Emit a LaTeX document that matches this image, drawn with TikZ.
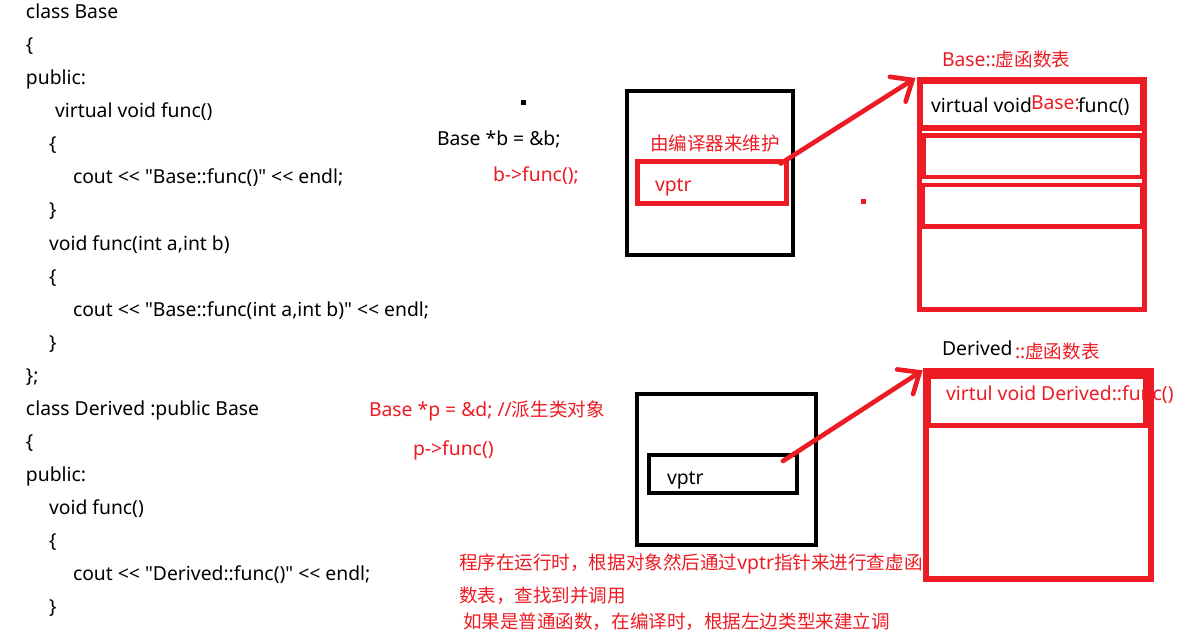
\documentclass[tikz,border=0pt]{standalone}
\usepackage{fontspec}
\setmainfont{Noto Sans}[Ligatures=TeXOff]
\newfontfamily\cjk{Noto Sans CJK SC}[Scale=0.96]
\usetikzlibrary{fit,arrows.meta}
\definecolor{pred}{RGB}{237,28,36}
\begin{document}
\begin{tikzpicture}[x=0.75pt,y=-0.75pt,
  code/.style={anchor=base west, inner sep=0, outer sep=0, text=black, font=\fontsize{14.5}{16}\selectfont},
  rcode/.style={code, text=pred},
  objbox/.style={draw=black, line width=3pt, inner sep=0, outer sep=0},
  redbox/.style={draw=pred, line width=3.5pt, inner sep=0, outer sep=0},
  dotmark/.style={inner sep=0, outer sep=0, minimum size=4pt},
  parrow/.style={draw=pred, line width=3.5pt, line cap=round,
    -{Straight Barb[length=13pt,width=22pt,line cap=round]}}]
\fill[white] (0,0) rectangle (1178,638);
\useasboundingbox (0,0) rectangle (1178,638);

% code listing
\node[code] (l1) at (26,19) {class Base};
\node[code] (l2) at (26,52) {\{};
\node[code] (l3) at (26,85) {public:};
\node[code] (l4) at (55,118) {virtual void func()};
\node[code] (l5) at (49,151) {\{};
\node[code] (l6) at (73,184) {cout << "Base::func()" << endl;};
\node[code] (l7) at (49,217) {\}};
\node[code] (l8) at (49,250) {void func(int a,int b)};
\node[code] (l9) at (49,283) {\{};
\node[code] (l10) at (73,316) {cout << "Base::func(int a,int b)" << endl;};
\node[code] (l11) at (49,349) {\}};
\node[code] (l12) at (26,382) {\};};
\node[code] (l13) at (26,415) {class Derived :public Base};
\node[code] (l14) at (26,448) {\{};
\node[code] (l15) at (26,481) {public:};
\node[code] (l16) at (49,514) {void func()};
\node[code] (l17) at (49,547) {\{};
\node[code] (l18) at (73,580) {cout << "Derived::func()" << endl;};
\node[code] (l19) at (49,613) {\}};

% middle statements
\node[code] (sb) at (437,146) {Base *b = \&b;};
\node[rcode] (cb) at (493,182) {b->func();};
\node[rcode] (sp) at (369,416) {Base *p = \&d; //{\cjk 派生类对象}};
\node[rcode] (cp) at (413,455) {p->func()};

% object 1 labels
\node[rcode] (maint) at (650,151) {\cjk 由编译器来维护};
\node[rcode] (vptr1t) at (655,192) {vptr};
% object 2 label
\node[code] (vptr2t) at (667,484) {vptr};

% Base vtable labels
\node[rcode] (bvtt) at (942,67) {Base::{\cjk 虚函数表}};
\node[code] (bf1) at (931,113) {virtual void};
\node[rcode] (bf2) at (1031,110) {Base:};
\node[code] (bf3) at (1078,113) {func()};

% Derived vtable labels
\node[code] (dvt1) at (942,355) {Derived};
\node[rcode] (dvt2) at (1015,358) {::{\cjk 虚函数表}};
\node[rcode] (df) at (946,400) {virtul void Derived::func()};

% bottom notes
\node[rcode] (n1) at (459,569) {{\cjk 程序在运行时，根据对象然后通过}vptr{\cjk 指针来进行查虚函}};
\node[rcode] (n2) at (459,602) {\cjk 数表，查找到并调用};
\node[rcode] (n3) at (463,628) {\cjk 如果是普通函数，在编译时，根据左边类型来建立调};

% dots
\node[dotmark, fill=black] (dot1) at (523.5,102.5) {};
\node[dotmark, fill=pred, minimum size=3.75pt] (dot2) at (863.5,201.5) {};

% object boxes
\node[objbox, fit={(627,91) (793,255)}] (obj1) {};
\node[redbox, line width=3.75pt, fit={(637,161.5) (786,204)}] (vp1) {};
\node[objbox, fit={(637,394) (816,545)}] (obj2) {};
\node[objbox, fit={(648.5,455) (797,493)}] (vp2) {};

% Base vtable
\node[redbox, line width=3.75pt, fit={(919.5,80) (1144.5,309)}] (bvt) {};
\node[redbox, line width=4.5pt, fit={(919.5,81) (1143,128)}] (brow1) {};
\node[redbox, fit={(924,135.5) (1142,177)}] (brow2) {};
\node[redbox, fit={(923,185) (1142,226.5)}] (brow3) {};

% Derived vtable
\node[redbox, line width=4pt, fit={(926,371) (1151,579)}] (dvt) {};
\node[redbox, line width=3.75pt, fit={(928,376) (1145.5,425)}] (drow1) {};

% arrows
\draw[parrow] ([xshift=-4pt,yshift=-1.5pt]vp1.north east) -- ([xshift=-3pt,yshift=1.5pt]bvt.north west);
\draw[parrow] ([xshift=-10.5pt,yshift=-4.5pt]vp2.north east) -- ([xshift=-2.5pt,yshift=0.5pt]dvt.north west);
\end{tikzpicture}
\end{document}
